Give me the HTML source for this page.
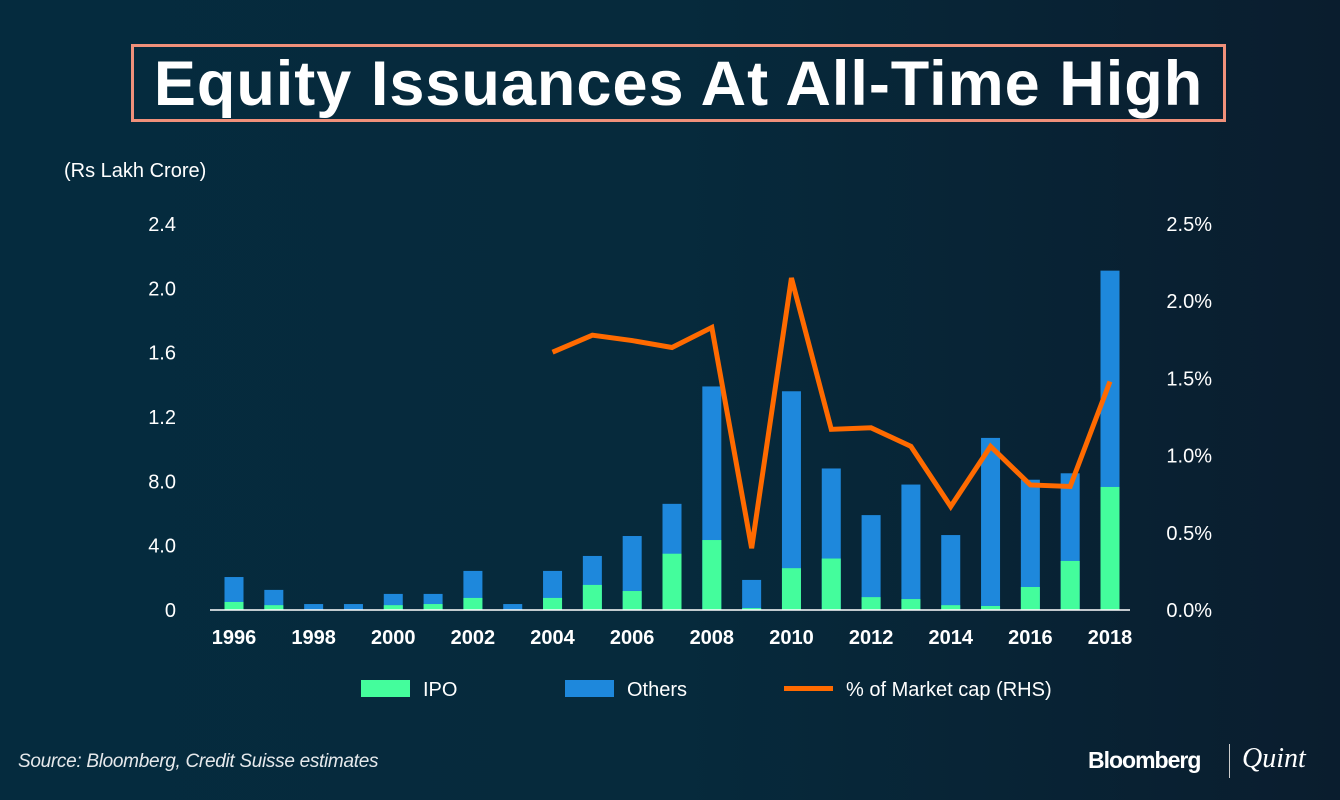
<!DOCTYPE html>
<html><head><meta charset="utf-8"><style>
html,body{margin:0;padding:0}
body{width:1340px;height:800px;overflow:hidden;background:linear-gradient(90deg,#052b3e 0%,#062a3c 50%,#0a1d2e 100%);font-family:"Liberation Sans",sans-serif;position:relative;color:#fff}
.title{position:absolute;left:131px;top:44px;width:1089px;height:72px;border:3px solid #f0907a;text-align:center;font-weight:bold;font-size:63px;line-height:74px;letter-spacing:1px}
.t{position:absolute;color:#fff}
</style></head><body>
<div class="title">Equity Issuances At All-Time High</div>
<div class="t" style="left:64px;top:160px;font-size:20px">(Rs Lakh Crore)</div>
<svg id="chart" width="1340" height="800" style="position:absolute;left:0;top:0"></svg>
<div class="t" style="left:18px;top:751px;font-size:19px;font-style:italic;color:#e6e9ec;letter-spacing:-0.3px">Source: Bloomberg, Credit Suisse estimates</div>
<div class="t" style="left:1088px;top:747px;font-size:23px;font-weight:bold;letter-spacing:-1px">Bloomberg</div>
<div style="position:absolute;left:1229px;top:744px;width:1px;height:34px;background:#ccc"></div>
<div class="t" style="left:1242px;top:743px;font-size:28px;font-style:italic;font-family:'Liberation Serif',serif">Quint</div>
<script>
const years=[1996,1997,1998,1999,2000,2001,2002,2003,2004,2005,2006,2007,2008,2009,2010,2011,2012,2013,2014,2015,2016,2017,2018];
const ipo=[0.05,0.03,0,0,0.03,0.037,0.075,0,0.075,0.156,0.118,0.35,0.435,0.012,0.26,0.32,0.08,0.068,0.03,0.025,0.143,0.305,0.765];
const total=[0.205,0.125,0.037,0.037,0.1,0.1,0.243,0.037,0.243,0.336,0.46,0.66,1.39,0.187,1.36,0.88,0.59,0.78,0.466,1.07,0.81,0.85,2.11];
const lineYears=[2004,2005,2006,2007,2008,2009,2010,2011,2012,2013,2014,2015,2016,2017,2018];
const pct=[1.67,1.78,1.745,1.70,1.83,0.40,2.15,1.17,1.18,1.06,0.67,1.06,0.81,0.80,1.48];
const leftTicks=[0,0.4,0.8,1.2,1.6,2.0,2.4];
const leftLabels=["0","4.0","8.0","1.2","1.6","2.0","2.4"];
const rightTicks=[0,0.5,1.0,1.5,2.0,2.5];
const svg=document.getElementById('chart');
const NS='http://www.w3.org/2000/svg';
const y0=610,yTop=224;
const yL=v=>y0-(v/2.4)*(y0-yTop);
const yR=v=>y0-(v/2.5)*(y0-yTop);
const x=yr=>234+(yr-1996)*(876/22);
function mk(tag,attrs){const e=document.createElementNS(NS,tag);for(const k in attrs)e.setAttribute(k,attrs[k]);svg.appendChild(e);return e;}
leftTicks.forEach((v,i)=>{const t=mk('text',{x:176,y:yL(v)+7,'text-anchor':'end','font-size':20,fill:'#fff'});t.textContent=leftLabels[i];

});
rightTicks.forEach(v=>{const t=mk('text',{x:1212,y:yR(v)+7,'text-anchor':'end','font-size':20,fill:'#fff'});t.textContent=v.toFixed(1)+'%';

});
years.forEach((yr,i)=>{const bw=19,cx=x(yr);
const o=mk('rect',{x:cx-bw/2,y:yL(total[i]),width:bw,height:yL(0)-yL(total[i]),fill:'#1e88dc'});


const p=mk('rect',{x:cx-bw/2,y:yL(ipo[i]),width:bw,height:yL(0)-yL(ipo[i]),fill:'#44fd9c'});


if(yr%2===0){const t=mk('text',{x:cx,y:644,'text-anchor':'middle','font-size':20,'font-weight':'bold',fill:'#fff'});t.textContent=yr;

}});
const ax=mk('line',{x1:210,x2:1130,y1:y0,y2:y0,stroke:'#fff','stroke-width':1.5});


const pts=lineYears.map((yr,i)=>x(yr)+','+yR(pct[i])).join(' ');
const pl=mk('polyline',{points:pts,fill:'none',stroke:'#ff6a00','stroke-width':5,'stroke-linejoin':'miter','stroke-miterlimit':4});


const leg=[{x:361,c:'#44fd9c',l:'IPO',n:'legend-ipo'},{x:565,c:'#1e88dc',l:'Others',n:'legend-others'},{x:784,c:'#ff6a00',l:'% of Market cap (RHS)',n:'legend-market-cap',line:1}];
leg.forEach(g=>{const s=g.line?mk('rect',{x:g.x,y:686,width:49,height:5,fill:g.c}):mk('rect',{x:g.x,y:680,width:49,height:17,fill:g.c});


const t=mk('text',{x:g.x+62,y:696,'font-size':20,fill:'#fff'});t.textContent=g.l;

});
</script>
</body></html>
